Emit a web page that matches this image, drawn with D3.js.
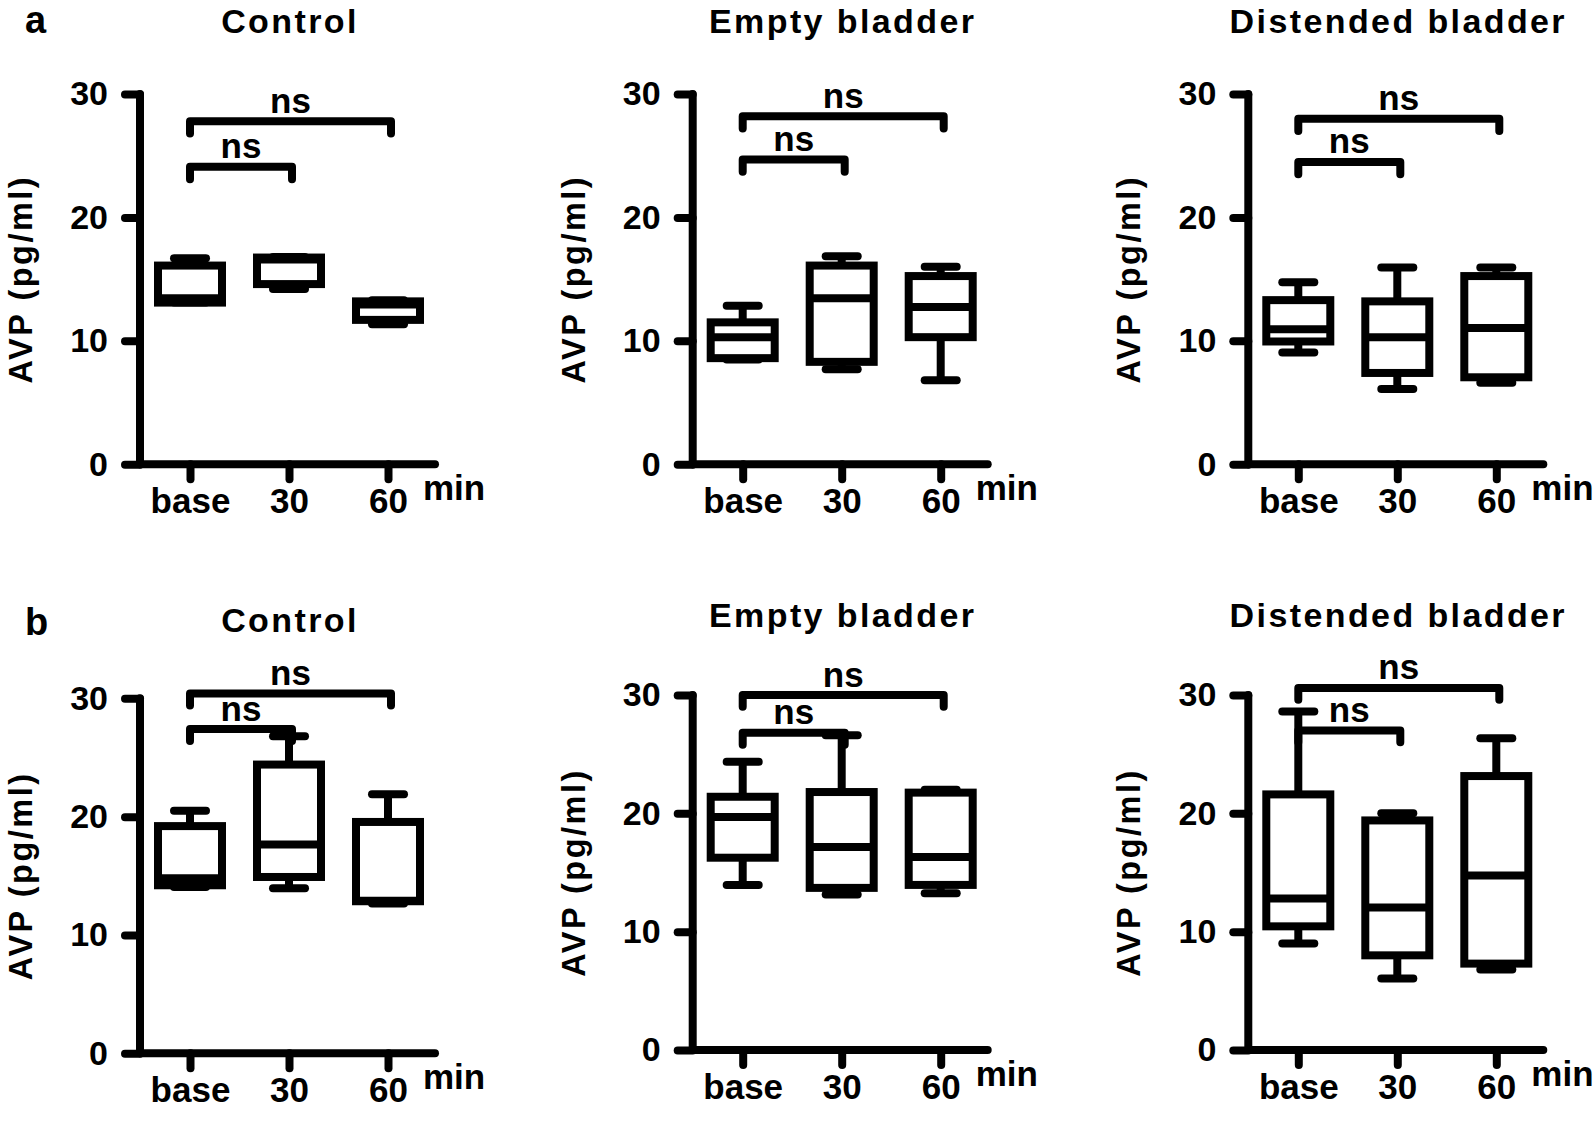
<!DOCTYPE html>
<html><head><meta charset="utf-8">
<script src="https://cdn.jsdelivr.net/npm/d3@7"></script>
<style>
html,body{margin:0;padding:0;background:#fff;}
svg{display:block;}
text{font-family:"Liberation Sans",Arial,Helvetica,sans-serif;font-weight:bold;fill:#000;}
</style></head><body>
<svg id="chart" width="1595" height="1126"></svg>
<script>
// ---------- data ----------
const categories = ["base", "30", "60"];
const yTicks = [0, 10, 20, 30];
const unitLabel = "min";
const yLabel = "AVP (pg/ml)";
const rowLabels = ["a", "b"];
const panelTitles = ["Control", "Empty bladder", "Distended bladder"];
const sigLabel = "ns";

// five-number summaries per category: [min, q1, median, q3, max]
const aControl   = [[13.1, 13.1, 13.45, 16.1, 16.7], [14.2, 14.6, 16.6, 16.75, 16.8], [11.35, 11.7, 12.95, 13.2, 13.3]];
const aEmpty     = [[8.5, 8.6, 10.3, 11.5, 12.85], [7.7, 8.3, 13.45, 16.1, 16.85], [6.8, 10.3, 12.75, 15.25, 16.0]];
const aDistended = [[9.05, 9.95, 10.95, 13.3, 14.75], [6.1, 7.4, 10.3, 13.2, 15.95], [6.6, 7.05, 11.05, 15.25, 15.95]];
const bControl   = [[14.05, 14.2, 14.8, 19.2, 20.5], [13.95, 14.9, 17.65, 24.4, 26.8], [12.65, 12.85, 12.9, 19.55, 21.9]];
const bEmpty     = [[13.95, 16.25, 19.7, 21.4, 24.35], [13.15, 13.7, 17.15, 21.8, 26.6], [13.25, 13.95, 16.3, 21.75, 22.0]];
const bDistended = [[9.0, 10.45, 12.8, 21.6, 28.6], [6.05, 8.0, 12.05, 19.4, 20.0], [6.8, 7.3, 14.75, 23.15, 26.35]];

// significance brackets per panel (value level of the bar; from "base" to category)
const aControlBrackets   = [{to: "60", level: 27.8}, {to: "30", level: 24.1}];
const aEmptyBrackets     = [{to: "60", level: 28.2}, {to: "30", level: 24.7}];
const aDistendedBrackets = [{to: "60", level: 28.0}, {to: "30", level: 24.5}];
const bControlBrackets   = [{to: "60", level: 30.4}, {to: "30", level: 27.4}];
const bEmptyBrackets     = [{to: "60", level: 30.0}, {to: "30", level: 26.8}];
const bDistendedBrackets = [{to: "60", level: 30.6}, {to: "30", level: 27.0}];

const panelData = [aControl, aEmpty, aDistended, bControl, bEmpty, bDistended];
const panelBrackets = [aControlBrackets, aEmptyBrackets, aDistendedBrackets, bControlBrackets, bEmptyBrackets, bDistendedBrackets];

// ---------- layout ----------
const layout = [
  {ax: 140,   y0: 464.3,  yTop: 94,    titleY: 33},
  {ax: 692.7, y0: 464.3,  yTop: 94,    titleY: 33},
  {ax: 1248.3,y0: 464.3,  yTop: 94,    titleY: 33},
  {ax: 140,   y0: 1053.3, yTop: 698.3, titleY: 631.7},
  {ax: 692.7, y0: 1050,   yTop: 695,   titleY: 626.7},
  {ax: 1248.3,y0: 1050,   yTop: 695,   titleY: 626.7}
];
const rowLabelPos = [{x: 25, y: 33}, {x: 25, y: 635}];

const SW = 8;          // stroke width
const boxW = 64;
const capW = 32;
const legDrop = 1.0;   // bracket leg length in value units

const svg = d3.select("#chart");
svg.append("rect").attr("width", 1595).attr("height", 1126).attr("fill", "#fff");

rowLabels.forEach((l, i) => {
  svg.append("text").attr("x", rowLabelPos[i].x).attr("y", rowLabelPos[i].y)
    .attr("font-size", 38).text(l);
});

panelData.forEach((data, p) => {
  const L = layout[p];
  const g = svg.append("g");
  const y = d3.scaleLinear().domain([0, 30]).range([L.y0, L.yTop]);
  const x = d3.scalePoint().domain(categories).range([L.ax + 50, L.ax + 248]);

  // title
  g.append("text").attr("x", x("30") + 1).attr("y", L.titleY)
    .attr("text-anchor", "middle").attr("font-size", 34)
    .attr("letter-spacing", "2.4px").text(panelTitles[p % 3]);

  // y axis
  const yAxis = d3.axisLeft(y).tickValues(yTicks).tickSize(15).tickSizeOuter(0).tickPadding(17);
  const gy = g.append("g").attr("transform", `translate(${L.ax},0)`).call(yAxis);
  gy.select(".domain").remove();
  gy.selectAll(".tick line").attr("stroke", "#000").attr("stroke-width", SW).attr("stroke-linecap", "round");
  gy.selectAll(".tick text").attr("font-size", 34).attr("fill", "#000");
  gy.attr("font-family", null).attr("font-size", null);

  // x axis ticks
  const xAxis = d3.axisBottom(x).tickSize(15).tickSizeOuter(0).tickPadding(9);
  const gx = g.append("g").attr("transform", `translate(0,${L.y0})`).call(xAxis);
  gx.select(".domain").remove();
  gx.selectAll(".tick line").attr("stroke", "#000").attr("stroke-width", SW).attr("stroke-linecap", "round");
  gx.selectAll(".tick text").attr("font-size", 35).attr("fill", "#000");
  gx.attr("font-family", null).attr("font-size", null);

  // spines
  g.append("line").attr("x1", L.ax).attr("x2", L.ax).attr("y1", y(30)).attr("y2", y(0))
    .attr("stroke", "#000").attr("stroke-width", SW).attr("stroke-linecap", "round");
  g.append("line").attr("x1", L.ax).attr("x2", L.ax + 295).attr("y1", y(0)).attr("y2", y(0))
    .attr("stroke", "#000").attr("stroke-width", SW).attr("stroke-linecap", "round");

  // unit label
  g.append("text").attr("x", L.ax + 283).attr("y", L.y0 + 36).attr("font-size", 35).text(unitLabel);

  // y label
  g.append("text")
    .attr("transform", `translate(${L.ax - 108},${(y(0) + y(30)) / 2}) rotate(-90)`)
    .attr("text-anchor", "middle").attr("font-size", 32.5).attr("letter-spacing", "2.5px")
    .text(yLabel);

  // boxes
  const boxes = g.selectAll("g.box").data(data.map((d, i) => ({cat: categories[i], v: d})))
    .join("g").attr("class", "box");
  boxes.each(function(d) {
    const b = d3.select(this);
    const cx = x(d.cat);
    const [mn, q1, md, q3, mx] = d.v;
    b.append("line").attr("x1", cx).attr("x2", cx).attr("y1", y(q3)).attr("y2", y(mx))
      .attr("stroke", "#000").attr("stroke-width", SW);
    b.append("line").attr("x1", cx).attr("x2", cx).attr("y1", y(q1)).attr("y2", y(mn))
      .attr("stroke", "#000").attr("stroke-width", SW);
    [mn, mx].forEach(v => {
      b.append("line").attr("x1", cx - capW / 2).attr("x2", cx + capW / 2).attr("y1", y(v)).attr("y2", y(v))
        .attr("stroke", "#000").attr("stroke-width", SW).attr("stroke-linecap", "round");
    });
    b.append("rect").attr("x", cx - boxW / 2).attr("width", boxW)
      .attr("y", y(q3)).attr("height", y(q1) - y(q3))
      .attr("fill", "#fff").attr("stroke", "#000").attr("stroke-width", SW);
    b.append("line").attr("x1", cx - boxW / 2).attr("x2", cx + boxW / 2).attr("y1", y(md)).attr("y2", y(md))
      .attr("stroke", "#000").attr("stroke-width", SW);
  });

  // brackets
  panelBrackets[p].forEach(br => {
    const x1 = x("base"), x2 = x(br.to) + 3;
    const yl = y(br.level), yd = y(br.level - legDrop);
    g.append("path").attr("d", `M${x1},${yd}V${yl}H${x2}V${yd}`)
      .attr("fill", "none").attr("stroke", "#000").attr("stroke-width", SW)
      .attr("stroke-linecap", "round").attr("stroke-linejoin", "round");
    g.append("text").attr("x", (x1 + x2) / 2).attr("y", yl - 8.5)
      .attr("text-anchor", "middle").attr("font-size", 35).text(sigLabel);
  });
});
</script>
</body></html>
